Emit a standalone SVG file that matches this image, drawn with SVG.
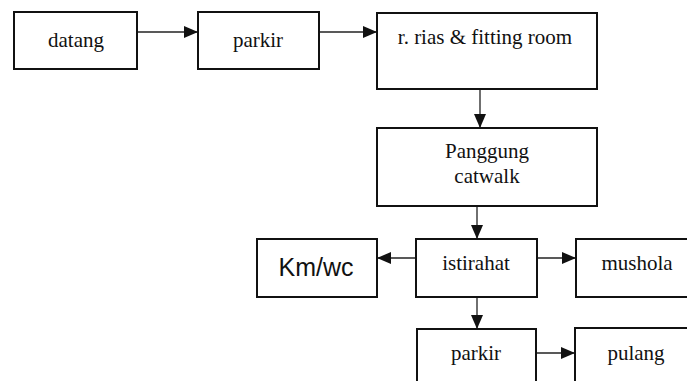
<svg xmlns="http://www.w3.org/2000/svg" width="687" height="381" viewBox="0 0 687 381">
  <style>
    .box { fill: #fff; stroke: #111; stroke-width: 2; }
    .lbl { font-family: "Liberation Serif", "Times New Roman", serif; font-size: 21px; fill: #111; text-anchor: middle; }
    .lbl-sans { font-family: "Liberation Sans", Arial, sans-serif; font-size: 25px; fill: #111; text-anchor: middle; }
    .edge { stroke: #222; stroke-width: 1.3; fill: none; marker-end: url(#head); }
  </style>
  <defs>
    <marker id="head" viewBox="0 0 14 12" refX="14" refY="6" markerWidth="14" markerHeight="12" markerUnits="userSpaceOnUse" orient="auto">
      <path d="M0,0 L14,6 L0,12 Z" fill="#111"/>
    </marker>
  </defs>
  <rect width="687" height="381" fill="#fff"/>

  <g id="connectors">
    <line class="edge" x1="138" y1="32" x2="198" y2="32"/>
    <line class="edge" x1="319" y1="32" x2="377" y2="32"/>
    <line class="edge" x1="480" y1="89" x2="480" y2="128"/>
    <line class="edge" x1="477" y1="206" x2="477" y2="239"/>
    <line class="edge" x1="416" y1="258" x2="377" y2="258"/>
    <line class="edge" x1="537" y1="258" x2="576" y2="258"/>
    <line class="edge" x1="477" y1="297" x2="477" y2="329"/>
    <line class="edge" x1="537" y1="353" x2="575" y2="353"/>
  </g>

  <g id="datang">
    <rect class="box" x="14" y="12" width="123" height="57"/>
    <text class="lbl" x="76" y="47">datang</text>
  </g>
  <g id="parkir-in">
    <rect class="box" x="198" y="12" width="121" height="57"/>
    <text class="lbl" x="258" y="47">parkir</text>
  </g>
  <g id="ruang-rias">
    <rect class="box" x="377" y="13" width="220" height="76"/>
    <text class="lbl" x="485" y="44">r. rias &amp; fitting room</text>
  </g>
  <g id="panggung">
    <rect class="box" x="377" y="128" width="220" height="78"/>
    <text class="lbl" x="487" y="158">Panggung</text>
    <text class="lbl" x="487" y="183">catwalk</text>
  </g>
  <g id="istirahat">
    <rect class="box" x="416" y="239" width="121" height="58"/>
    <text class="lbl" x="476" y="270">istirahat</text>
  </g>
  <g id="kmwc">
    <rect class="box" x="257" y="239" width="120" height="58"/>
    <text class="lbl-sans" x="316" y="276">Km/wc</text>
  </g>
  <g id="mushola">
    <rect class="box" x="576" y="239" width="124" height="58"/>
    <text class="lbl" x="637" y="270">mushola</text>
  </g>
  <g id="parkir-out">
    <rect class="box" x="417" y="329" width="119" height="60"/>
    <text class="lbl" x="476" y="360">parkir</text>
  </g>
  <g id="pulang">
    <rect class="box" x="575" y="328" width="124" height="60"/>
    <text class="lbl" x="636" y="360">pulang</text>
  </g>
</svg>
